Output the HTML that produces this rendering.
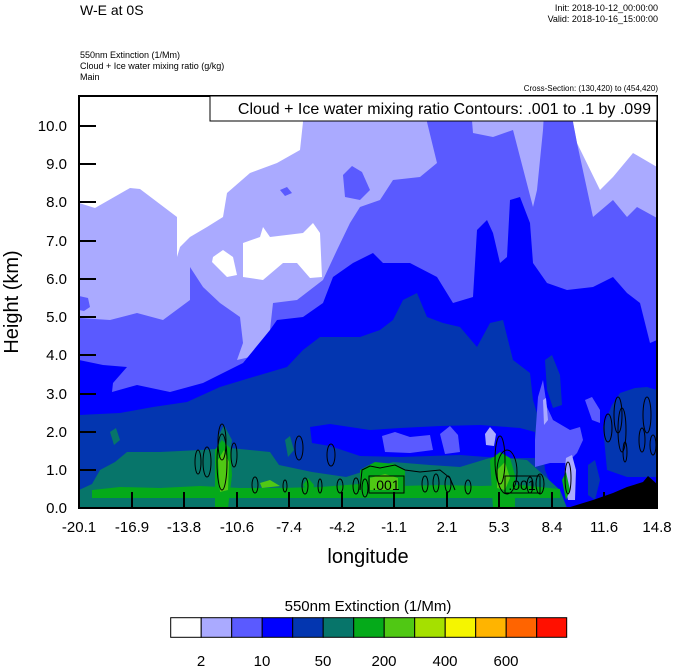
<!DOCTYPE html>
<html><head><meta charset="utf-8"><style>
html,body{margin:0;padding:0;background:#fff;}
svg{display:block;font-family:"Liberation Sans",sans-serif;}
</style></head><body>
<svg width="674" height="667" viewBox="0 0 674 667" xmlns="http://www.w3.org/2000/svg">
<defs><clipPath id="pc"><rect x="79" y="96" width="578" height="412"/></clipPath></defs>
<g clip-path="url(#pc)">
<rect x="79" y="96" width="578" height="412" fill="#fff"/>
<polygon fill="#aaaaff" points="79,203 95,208 130,188 140,189 177,217 177,257 180,247 190,237 207,227 223,217 227,193 250,173 277,163 300,150 303,122 303,96 573,96 573,122 577,143 600,190 613,177 633,153 657,167 657,508 79,508"/>
<polygon fill="#fff" points="213,257 223,250 233,257 237,275 227,277 212,262"/>
<polygon fill="#fff" points="243,243 260,237 263,227 270,237 303,233 313,223 320,233 322,277 310,278 297,263 283,263 263,280 243,277"/>
<polygon fill="#5a5aff" points="79,318 110,320 137,313 163,320 190,300 190,267 203,287 220,303 240,317 243,343 237,360 250,357 270,330 273,303 297,300 323,280 337,250 350,223 360,207 380,200 393,180 420,177 437,163 427,122 430,96 470,96 473,133 493,137 513,130 520,157 533,207 537,190 543,130 545,96 573,96 573,122 577,143 593,217 613,200 627,217 637,207 657,218 657,508 79,508"/>
<polygon fill="#5a5aff" points="343,175 352,166 362,172 370,190 360,200 345,197"/>
<polygon fill="#5a5aff" points="79,296 88,298 90,307 84,311 79,310"/>
<polygon fill="#5a5aff" points="280,190 287,187 292,193 285,196"/>
<polygon fill="#0000ff" points="79,360 103,365 127,367 113,383 112,392 137,385 170,392 203,383 223,373 243,363 270,330 277,320 303,317 323,303 333,277 353,263 373,253 383,263 410,263 437,277 453,303 473,297 477,230 487,220 493,233 500,263 507,257 510,200 520,197 530,223 533,263 547,283 567,290 593,287 613,277 627,293 640,303 650,343 657,340 657,508 79,508"/>
<polygon fill="#0336b0" points="79,415 120,413 153,407 187,402 220,387 253,377 287,367 303,350 320,337 360,337 380,330 393,320 403,300 417,293 427,317 443,323 460,327 477,347 490,323 503,320 513,360 530,373 533,400 540,423 545,470 560,508 79,508"/>
<polygon fill="#0336b0" points="545,360 552,355 560,375 562,405 553,408 547,390"/>
<polygon fill="#0336b0" points="603,427 612,405 620,393 635,388 647,387 657,390 657,477 627,477 607,470"/>
<polygon fill="#0336b0" points="588,465 595,460 600,480 595,500 588,495"/>
<polygon fill="#0000ff" points="310,427 330,424 370,430 400,428 440,426 480,425 520,428 535,432 535,458 500,458 460,455 400,457 360,456 330,446 312,443"/>
<polygon fill="#5a5aff" points="382,436 395,432 410,437 430,435 433,450 410,453 385,452"/>
<polygon fill="#5a5aff" points="440,434 450,426 458,435 460,452 445,454"/>
<polygon fill="#aaaaff" points="485,434 490,427 496,434 494,446 486,445"/>
<polygon fill="#5a5aff" points="543,380 547,407 553,420 570,430 580,427 583,440 577,453 567,463 550,463 535,467 535,440 538,397"/>
<polygon fill="#aaaaff" points="543,400 546,398 548,420 544,425"/>
<polygon fill="#5a5aff" points="585,400 592,397 600,410 600,423 592,420"/>
<polygon fill="#aaaaff" points="566,458 572,455 576,470 575,500 568,500 564,480"/>
<polygon fill="#07756a" points="79,490 92,484 100,470 115,462 127,452 160,452 200,450 230,448 270,452 279,465 312,472 346,477 362,472 393,462 430,465 460,467 493,457 527,460 560,490 567,508 79,508"/>
<polygon fill="#07756a" points="110,432 116,428 120,440 114,445"/>
<polygon fill="#07756a" points="218,437 224,425 232,440 230,455 218,455"/>
<polygon fill="#07756a" points="285,440 290,436 294,450 288,457"/>
<polygon fill="#05aa1a" points="92,490 120,487 160,488 200,486 240,488 280,488 320,487 360,484 400,486 440,485 480,486 520,485 560,489 560,498 92,498"/>
<polygon fill="#05aa1a" points="360,470 375,462 395,464 405,470 405,486 360,486"/>
<polygon fill="#05aa1a" points="490,460 500,452 510,458 515,475 515,508 493,508"/>
<polygon fill="#05aa1a" points="215,450 222,440 230,448 232,475 228,508 215,508"/>
<polygon fill="#05aa1a" points="303,485 308,478 314,485 312,495"/>
<polygon fill="#05aa1a" points="562,480 566,472 570,490 566,500"/>
<polygon fill="#50c814" points="218,460 224,450 229,462 228,490 220,492"/>
<polygon fill="#50c814" points="370,478 385,474 398,478 398,490 370,490"/>
<polygon fill="#50c814" points="497,470 505,462 510,478 505,490 497,488"/>
<polygon fill="#50c814" points="260,483 270,480 280,486 262,488"/>
<polygon fill="#000" points="567,508 593,500 613,493 627,487 643,482 648,476 657,484 657,508"/>
</g>
<g fill="none" stroke="#000" stroke-width="1">
<ellipse cx="222" cy="442" rx="4" ry="18"/>
<ellipse cx="222" cy="462" rx="5" ry="28"/>
<ellipse cx="234" cy="455" rx="3" ry="12"/>
<ellipse cx="207" cy="462" rx="4" ry="15"/>
<ellipse cx="198" cy="462" rx="3" ry="12"/>
<ellipse cx="299" cy="448" rx="4" ry="12"/>
<ellipse cx="331" cy="455" rx="4" ry="11"/>
<ellipse cx="255" cy="485" rx="3" ry="8"/>
<ellipse cx="285" cy="486" rx="2" ry="6"/>
<ellipse cx="305" cy="486" rx="3" ry="8"/>
<ellipse cx="320" cy="486" rx="2" ry="7"/>
<ellipse cx="340" cy="486" rx="3" ry="7"/>
<ellipse cx="356" cy="486" rx="3" ry="8"/>
<ellipse cx="365" cy="488" rx="3" ry="9"/>
<path d="M360,490 L362,470 L370,466 L380,468 L395,465 L405,470 L420,472 L440,470 L450,478 L455,490"/>
<ellipse cx="425" cy="484" rx="3" ry="8"/>
<ellipse cx="436" cy="483" rx="3" ry="9"/>
<ellipse cx="448" cy="484" rx="3" ry="8"/>
<ellipse cx="468" cy="487" rx="3" ry="7"/>
<ellipse cx="500" cy="460" rx="5" ry="24"/>
<ellipse cx="507" cy="472" rx="10" ry="22"/>
<ellipse cx="530" cy="485" rx="3" ry="8"/>
<ellipse cx="540" cy="484" rx="4" ry="10"/>
<ellipse cx="568" cy="478" rx="3" ry="16"/>
<ellipse cx="608" cy="428" rx="4" ry="14"/>
<ellipse cx="618" cy="415" rx="4" ry="18"/>
<ellipse cx="622" cy="430" rx="4" ry="22"/>
<ellipse cx="647" cy="415" rx="4" ry="18"/>
<ellipse cx="642" cy="440" rx="3" ry="12"/>
<ellipse cx="653" cy="445" rx="3" ry="10"/>
<ellipse cx="625" cy="452" rx="2" ry="10"/>
</g>
<g stroke="#000" stroke-width="1" fill="none">
<rect x="369" y="476" width="35" height="17"/>
<rect x="505" y="476" width="35" height="17"/>
</g>
<text x="386" y="490" font-size="14" text-anchor="middle">.001</text>
<text x="522" y="490" font-size="14" text-anchor="middle">.001</text>
<rect x="79" y="96" width="578" height="412" fill="none" stroke="#000" stroke-width="2"/>
<rect x="210" y="96" width="447" height="25" fill="#fff" stroke="#000" stroke-width="1"/>
<text x="651" y="114" font-size="16" text-anchor="end">Cloud + Ice water mixing ratio Contours: .001 to .1 by .099</text>
<g stroke="#000" stroke-width="2">
<line x1="79" y1="126" x2="96" y2="126"/><line x1="79" y1="164" x2="96" y2="164"/>
<line x1="79" y1="202" x2="96" y2="202"/><line x1="79" y1="241" x2="96" y2="241"/>
<line x1="79" y1="279" x2="96" y2="279"/><line x1="79" y1="317" x2="96" y2="317"/>
<line x1="79" y1="355" x2="96" y2="355"/><line x1="79" y1="394" x2="96" y2="394"/>
<line x1="79" y1="432" x2="96" y2="432"/><line x1="79" y1="470" x2="96" y2="470"/>
<line x1="132" y1="508" x2="132" y2="492"/><line x1="184" y1="508" x2="184" y2="492"/>
<line x1="237" y1="508" x2="237" y2="492"/><line x1="289" y1="508" x2="289" y2="492"/>
<line x1="342" y1="508" x2="342" y2="492"/><line x1="394" y1="508" x2="394" y2="492"/>
<line x1="447" y1="508" x2="447" y2="492"/><line x1="499" y1="508" x2="499" y2="492"/>
<line x1="552" y1="508" x2="552" y2="492"/><line x1="604" y1="508" x2="604" y2="492"/>
</g>
<g font-size="15" text-anchor="end">
<text x="67" y="131">10.0</text><text x="67" y="169">9.0</text><text x="67" y="207">8.0</text>
<text x="67" y="246">7.0</text><text x="67" y="284">6.0</text><text x="67" y="322">5.0</text>
<text x="67" y="360">4.0</text><text x="67" y="399">3.0</text><text x="67" y="437">2.0</text>
<text x="67" y="475">1.0</text><text x="67" y="513">0.0</text>
</g>
<g font-size="15" text-anchor="middle">
<text x="79" y="532">-20.1</text><text x="132" y="532">-16.9</text><text x="184" y="532">-13.8</text>
<text x="237" y="532">-10.6</text><text x="289" y="532">-7.4</text><text x="342" y="532">-4.2</text>
<text x="394" y="532">-1.1</text><text x="447" y="532">2.1</text><text x="499" y="532">5.3</text>
<text x="552" y="532">8.4</text><text x="604" y="532">11.6</text><text x="657" y="532">14.8</text>
</g>
<text x="368" y="563" font-size="20" text-anchor="middle">longitude</text>
<text transform="translate(18,302) rotate(-90)" font-size="20" text-anchor="middle">Height (km)</text>
<text x="80" y="15" font-size="14">W-E at 0S</text>
<text x="658" y="11" font-size="9" text-anchor="end">Init: 2018-10-12_00:00:00</text>
<text x="658" y="22" font-size="9" text-anchor="end">Valid: 2018-10-16_15:00:00</text>
<text x="80" y="58" font-size="9">550nm Extinction   (1/Mm)</text>
<text x="80" y="69" font-size="9">Cloud + Ice water mixing ratio   (g/kg)</text>
<text x="80" y="80" font-size="9">Main</text>
<text x="658" y="91" font-size="8" text-anchor="end">Cross-Section: (130,420) to (454,420)</text>
<text x="368" y="611" font-size="15" text-anchor="middle">550nm Extinction  (1/Mm)</text>
<g stroke="#000" stroke-width="1">
<rect x="170.7" y="617.7" width="30.5" height="19.6" fill="#fff"/>
<rect x="201.2" y="617.7" width="30.5" height="19.6" fill="#aaaaff"/>
<rect x="231.7" y="617.7" width="30.5" height="19.6" fill="#5a5aff"/>
<rect x="262.2" y="617.7" width="30.5" height="19.6" fill="#0000ff"/>
<rect x="292.7" y="617.7" width="30.5" height="19.6" fill="#0336b0"/>
<rect x="323.2" y="617.7" width="30.5" height="19.6" fill="#07756a"/>
<rect x="353.7" y="617.7" width="30.5" height="19.6" fill="#05aa1a"/>
<rect x="384.2" y="617.7" width="30.5" height="19.6" fill="#50c814"/>
<rect x="414.7" y="617.7" width="30.5" height="19.6" fill="#a5e000"/>
<rect x="445.2" y="617.7" width="30.5" height="19.6" fill="#f5f500"/>
<rect x="475.7" y="617.7" width="30.5" height="19.6" fill="#ffb400"/>
<rect x="506.2" y="617.7" width="30.5" height="19.6" fill="#ff6400"/>
<rect x="536.7" y="617.7" width="30.0" height="19.6" fill="#ff1000"/>
</g>
<g font-size="15" text-anchor="middle">
<text x="201" y="666">2</text><text x="262" y="666">10</text><text x="323" y="666">50</text>
<text x="384" y="666">200</text><text x="445" y="666">400</text><text x="506" y="666">600</text>
</g>
</svg>
</body></html>
